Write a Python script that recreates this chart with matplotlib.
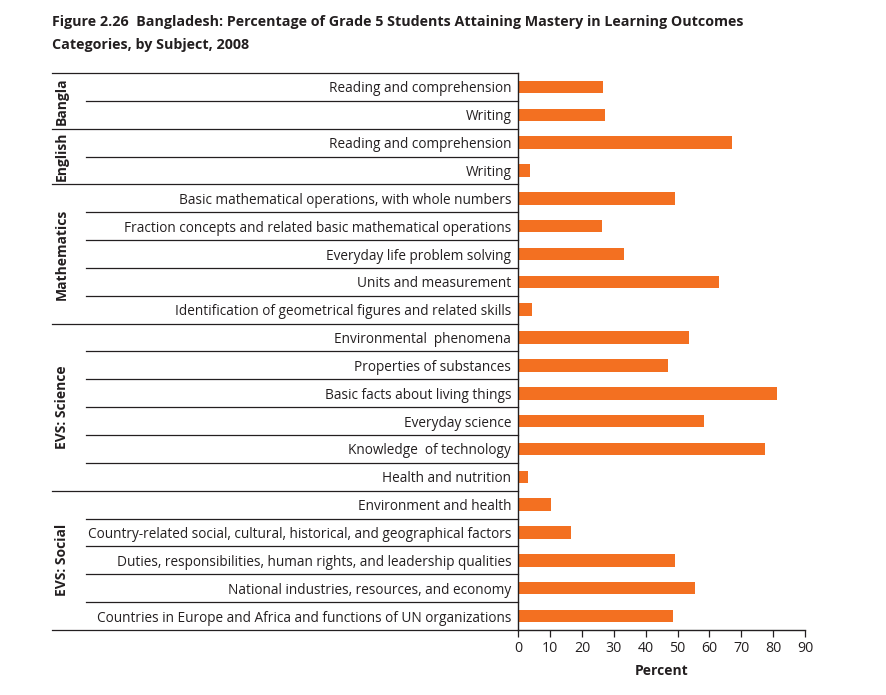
import matplotlib
matplotlib.use("Agg")
import matplotlib.pyplot as plt
from matplotlib.transforms import blended_transform_factory

plt.rcParams["font.family"] = ["Open Sans", "DejaVu Sans"]

# data
SUBJECTS = ["Bangla", "English", "Mathematics", "EVS: Science", "EVS: Social"]
GROUP_SIZE = [2, 2, 5, 6, 5]
CATEGORIES = [
    "Reading and comprehension",
    "Writing",
    "Reading and comprehension",
    "Writing",
    "Basic mathematical operations, with whole numbers",
    "Fraction concepts and related basic mathematical operations",
    "Everyday life problem solving",
    "Units and measurement",
    "Identification of geometrical figures and related skills",
    "Environmental  phenomena",
    "Properties of substances",
    "Basic facts about living things",
    "Everyday science",
    "Knowledge  of technology",
    "Health and nutrition",
    "Environment and health",
    "Country-related social, cultural, historical, and geographical factors",
    "Duties, responsibilities, human rights, and leadership qualities",
    "National industries, resources, and economy",
    "Countries in Europe and Africa and functions of UN organizations",
]
PERCENT = [26.6, 27.2, 67.0, 3.7, 49.2, 26.2, 33.2, 63.0, 4.3, 53.6,
           47.0, 81.2, 58.2, 77.4, 3.0, 10.3, 16.5, 49.2, 55.5, 48.6]
XTICKS = list(range(0, 100, 10))

W, H = 886, 695
ORANGE = "#F37021"
INK = "#231F20"

fig = plt.figure(figsize=(W / 100, H / 100), dpi=100)
x0, x1, ytop, ybot = 518.3, 805.0, 73.0, 630.0
ax = fig.add_axes([x0 / W, 1 - ybot / H, (x1 - x0) / W, (ybot - ytop) / H])

n = len(CATEGORIES)
ypos = list(range(n))
ax.barh(ypos, PERCENT, height=0.45, color=ORANGE, zorder=2)
ax.set_ylim(n - 0.5, -0.5)
ax.set_xlim(0, 90)
ax.set_xticks(XTICKS)
ax.set_yticks(ypos)
ax.set_yticklabels(CATEGORIES, fontsize=9.85, color=INK)
ax.tick_params(axis="y", length=0, pad=5)
ax.tick_params(axis="x", length=5, width=0.9, labelsize=10.2, colors=INK, pad=3)
for s in ["top", "right"]:
    ax.spines[s].set_visible(False)
for s in ["left", "bottom"]:
    ax.spines[s].set_linewidth(1.0)
    ax.spines[s].set_color(INK)
ax.set_xlabel("Percent", fontsize=10, fontweight="bold", color=INK, labelpad=6)

# row separators and subject brackets to the left of the axis
tr = blended_transform_factory(fig.transFigure, ax.transData)
xl_group, xl_row, xr = 52 / W, 86 / W, x0 / W
start = 0
bounds = [-0.5]
for name, size in zip(SUBJECTS, GROUP_SIZE):
    for k in range(start, start + size - 1):
        ax.plot([xl_row, xr], [k + 0.5, k + 0.5], color=INK, lw=0.9,
                transform=tr, clip_on=False)
    end = start + size - 1 + 0.5
    bounds.append(end)
    ax.text(62 / W, (start - 0.5 + end) / 2, name, transform=tr, rotation=90,
            ha="center", va="center", fontsize=10, fontweight="bold", color=INK)
    start += size
for b in bounds:
    ax.plot([xl_group, xr], [b, b], color=INK, lw=0.9, transform=tr, clip_on=False)

fig.text(52 / W, 1 - 33.5 / H,
         "Figure 2.26  Bangladesh: Percentage of Grade 5 Students Attaining Mastery in Learning Outcomes\n"
         "Categories, by Subject, 2008",
         ha="left", va="center", fontsize=10.3, fontweight="bold", color=INK,
         linespacing=1.8)

fig.savefig("out.png", dpi=100)
